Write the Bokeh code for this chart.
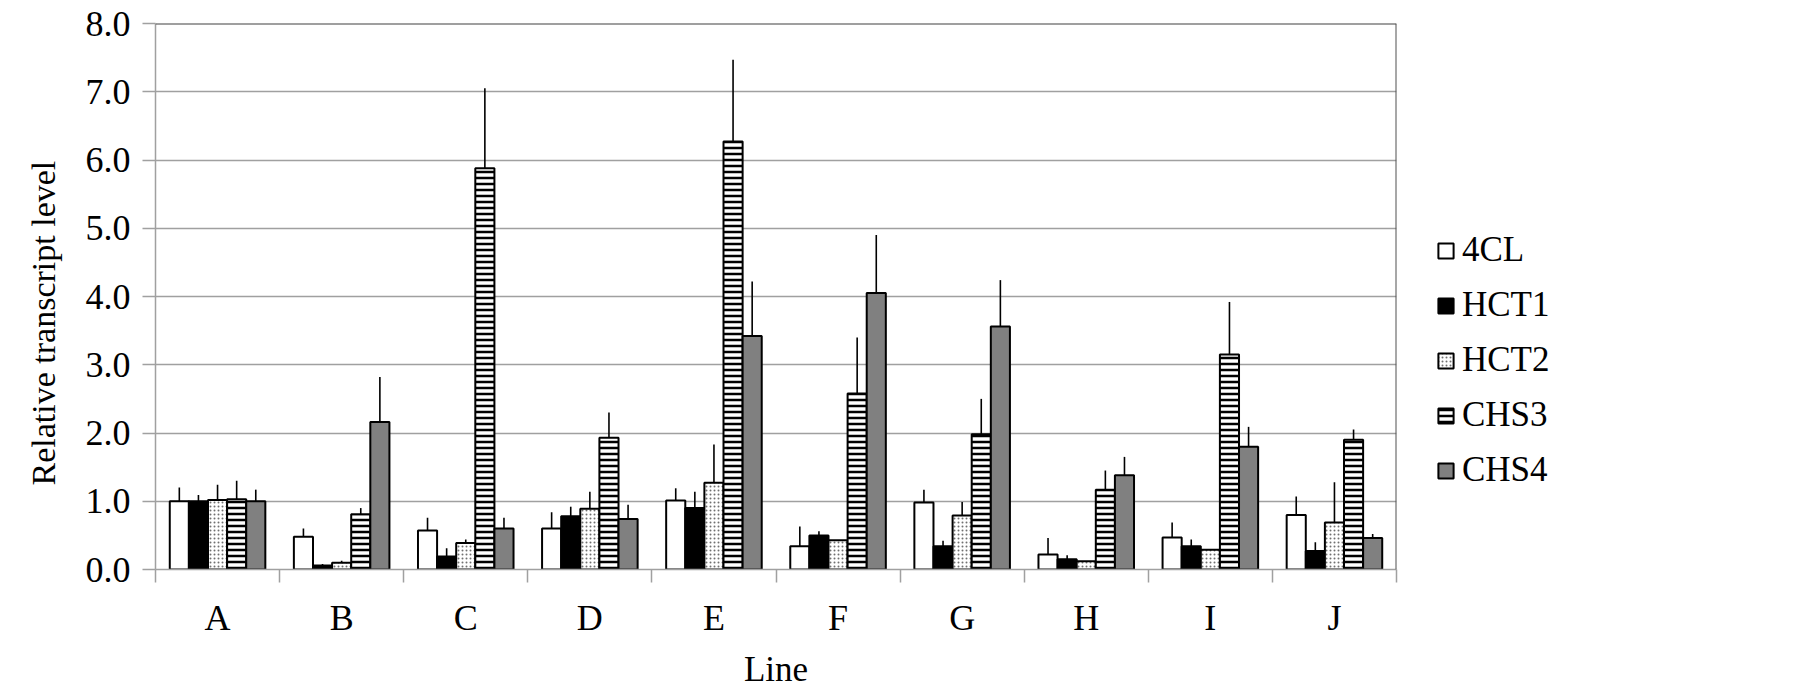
from bokeh.plotting import figure
from bokeh.models import (Range1d, FixedTicker, Legend, LegendItem, Span, Title,
                          ColumnDataSource, NumeralTickFormatter)
from bokeh.embed import file_html
from bokeh.resources import INLINE

# ---------------- data ----------------
categories = ["A", "B", "C", "D", "E", "F", "G", "H", "I", "J"]
series_names = ["4CL", "HCT1", "HCT2", "CHS3", "CHS4"]

val_4CL = [1.00, 0.48, 0.57, 0.60, 1.01, 0.34, 0.98, 0.22, 0.47, 0.80]
err_4CL = [0.20, 0.12, 0.19, 0.24, 0.18, 0.29, 0.19, 0.24, 0.22, 0.27]

val_HCT1 = [1.00, 0.06, 0.19, 0.78, 0.90, 0.50, 0.34, 0.15, 0.34, 0.27]
err_HCT1 = [0.09, 0.02, 0.12, 0.14, 0.24, 0.06, 0.08, 0.06, 0.10, 0.13]

val_HCT2 = [1.02, 0.10, 0.39, 0.89, 1.27, 0.43, 0.79, 0.12, 0.29, 0.69]
err_HCT2 = [0.22, 0.03, 0.05, 0.25, 0.56, 0.00, 0.20, 0.00, 0.00, 0.59]

val_CHS3 = [1.03, 0.81, 5.88, 1.93, 6.27, 2.58, 1.98, 1.17, 3.15, 1.90]
err_CHS3 = [0.27, 0.09, 1.17, 0.37, 1.20, 0.82, 0.52, 0.28, 0.77, 0.15]

val_CHS4 = [1.00, 2.16, 0.60, 0.74, 3.42, 4.05, 3.56, 1.38, 1.80, 0.46]
err_CHS4 = [0.17, 0.66, 0.16, 0.21, 0.80, 0.85, 0.68, 0.27, 0.29, 0.06]

y_ticks = [0, 1, 2, 3, 4, 5, 6, 7, 8]

values = [val_4CL, val_HCT1, val_HCT2, val_CHS3, val_CHS4]
errors = [err_4CL, err_HCT1, err_HCT2, err_CHS3, err_CHS4]

# ---------------- styles ----------------
FONT = "Liberation Serif"
GRID = "#a0a0a0"
BAR_W = 0.154
styles = [
    dict(fill_color="white"),
    dict(fill_color="black"),
    dict(fill_color="white", hatch_pattern=".", hatch_color="#707070", hatch_scale=4, hatch_weight=1),
    dict(fill_color="white", hatch_pattern="-", hatch_color="black", hatch_scale=6, hatch_weight=2.5),
    dict(fill_color="#808080"),
]

p = figure(frame_width=1241, frame_height=546,
           x_range=Range1d(0, len(categories)), y_range=Range1d(0, 8),
           output_backend="svg", toolbar_location=None, title=None,
           min_border_left=155, min_border_right=0, min_border_top=23, min_border_bottom=0)
p.outline_line_color = None
p.background_fill_color = "white"
p.xgrid.visible = False
p.ygrid.grid_line_color = GRID
p.ygrid.grid_line_width = 1.5

# y axis
p.yaxis.ticker = FixedTicker(ticks=y_ticks)
p.yaxis.formatter = NumeralTickFormatter(format="0.0")
p.yaxis.major_tick_out = 13
p.yaxis.major_tick_in = 0
p.yaxis.major_tick_line_color = GRID
p.yaxis.major_tick_line_width = 1.5
p.yaxis.minor_tick_line_color = None
p.yaxis.axis_line_color = GRID
p.yaxis.axis_line_width = 1.5
p.yaxis.major_label_standoff = 12
p.yaxis.major_label_text_font = FONT
p.yaxis.major_label_text_font_size = "36px"
p.yaxis.major_label_text_color = "black"

# x axis
centers = [i + 0.5 for i in range(len(categories))]
p.xaxis.ticker = FixedTicker(ticks=centers, minor_ticks=list(range(len(categories) + 1)))
p.xaxis.major_label_overrides = {c: cat for c, cat in zip(centers, categories)}
p.xaxis.major_tick_out = 0
p.xaxis.major_tick_in = 0
p.xaxis.major_tick_line_color = None
p.xaxis.minor_tick_out = 13
p.xaxis.minor_tick_in = 0
p.xaxis.minor_tick_line_color = GRID
p.xaxis.minor_tick_line_width = 1.5
p.xaxis.axis_line_color = GRID
p.xaxis.axis_line_width = 1.5
p.xaxis.major_label_standoff = 15
p.xaxis.major_label_text_font = FONT
p.xaxis.major_label_text_font_size = "36px"
p.xaxis.major_label_text_color = "black"
p.xaxis.axis_label = "Line"
p.xaxis.axis_label_standoff = 9
p.xaxis.axis_label_text_font = FONT
p.xaxis.axis_label_text_font_size = "35px"
p.xaxis.axis_label_text_font_style = "normal"
p.xaxis.axis_label_text_color = "black"

# y axis title (left panel, outside the tick labels)
p.add_layout(Title(text="Relative transcript level", align="left", offset=84, standoff=41,
                   text_font=FONT, text_font_size="34px", text_font_style="normal",
                   text_color="black"), "left")

# borders (top / right)
p.add_layout(Span(location=8, dimension="width", line_color="#404040", line_width=2))
p.add_layout(Span(location=len(categories), dimension="height", line_color="#505050", line_width=2))

# bars
n = len(series_names)
items = []
for k, (name, vals, errs, st) in enumerate(zip(series_names, values, errors, styles)):
    off = (k - (n - 1) / 2) * BAR_W
    xs = [c + off for c in centers]
    src = ColumnDataSource(dict(x=xs, top=vals, err_top=[v + e for v, e in zip(vals, errs)]))
    r = p.vbar(x="x", top="top", bottom=0, width=BAR_W, source=src,
               line_color="black", line_width=2, **st)
    p.segment(x0="x", y0="top", x1="x", y1="err_top", source=src,
              line_color="black", line_width=1.6)
    items.append(LegendItem(label=name, renderers=[r]))

legend = Legend(items=items, location=(40, 79), orientation="vertical",
                border_line_color=None, background_fill_alpha=0,
                padding=0, margin=0, spacing=15,
                glyph_width=19, glyph_height=19, label_height=40, label_standoff=7,
                label_text_font=FONT, label_text_font_size="35px", label_text_color="black")
p.add_layout(legend, "right")

open("out.html", "w").write(file_html(p, INLINE))
